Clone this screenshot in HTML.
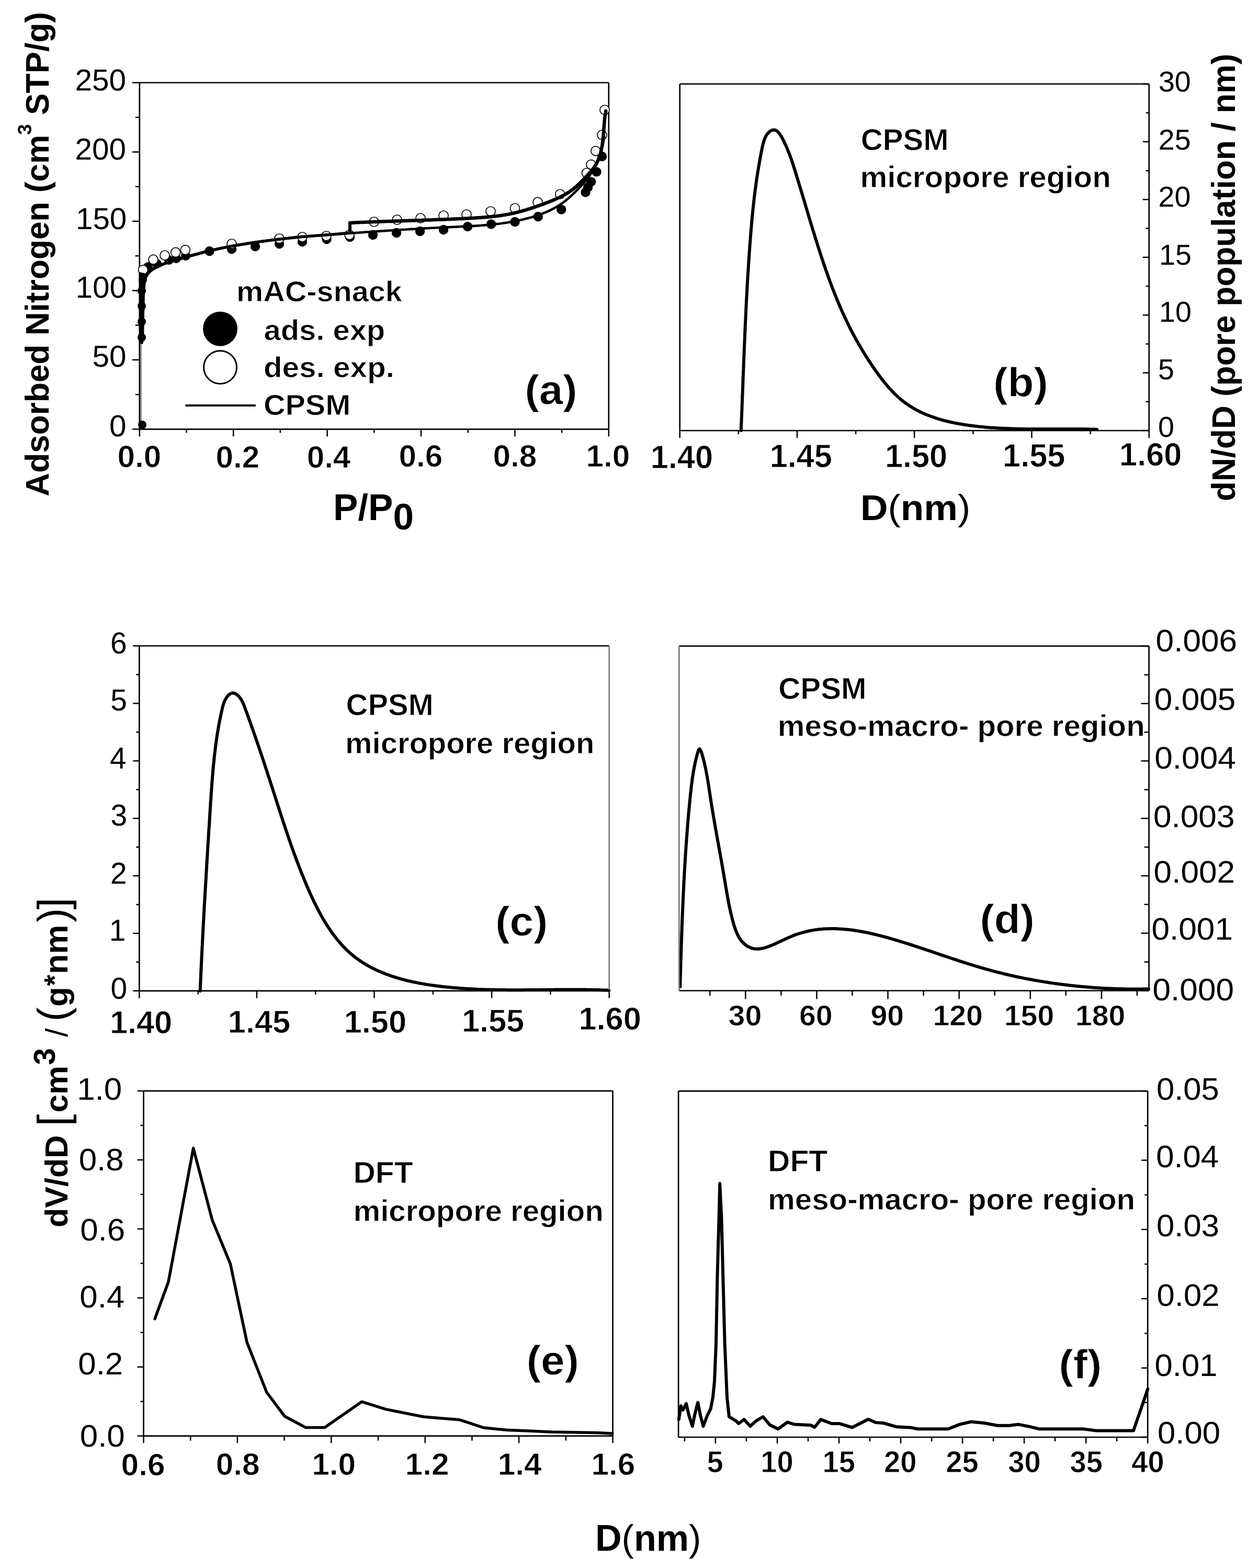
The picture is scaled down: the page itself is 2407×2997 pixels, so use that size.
<!DOCTYPE html>
<html><head><meta charset="utf-8"><title>Figure</title>
<style>
html,body{margin:0;padding:0;background:#fff;}
svg{display:block;}
text{font-family:"Liberation Sans", Arial, Helvetica, sans-serif;fill:#000;}
text[font-weight="bold"]{stroke:#fff;stroke-width:0.8px;}
.t, .t text{stroke:none !important;}
</style></head>
<body>
<svg width="2407" height="2997" viewBox="0 0 2407 2997">
<rect x="0" y="0" width="2407" height="2997" fill="#fff"/>
<line x1="266.8" y1="158" x2="1163.8" y2="158" stroke="#000" stroke-width="2.7"/>
<line x1="1163.8" y1="158" x2="1163.8" y2="820.3" stroke="#000" stroke-width="2.7"/>
<line x1="266.8" y1="820.3" x2="1163.8" y2="820.3" stroke="#000" stroke-width="2.7"/>
<line x1="266.8" y1="158" x2="266.8" y2="820.3" stroke="#000" stroke-width="2.7"/>
<line x1="252.8" y1="820.3" x2="266.8" y2="820.3" stroke="#000" stroke-width="2.5"/>
<line x1="258.8" y1="754.1" x2="266.8" y2="754.1" stroke="#000" stroke-width="2.5"/>
<line x1="252.8" y1="687.8" x2="266.8" y2="687.8" stroke="#000" stroke-width="2.5"/>
<line x1="258.8" y1="621.6" x2="266.8" y2="621.6" stroke="#000" stroke-width="2.5"/>
<line x1="252.8" y1="555.4" x2="266.8" y2="555.4" stroke="#000" stroke-width="2.5"/>
<line x1="258.8" y1="489.1" x2="266.8" y2="489.1" stroke="#000" stroke-width="2.5"/>
<line x1="252.8" y1="422.9" x2="266.8" y2="422.9" stroke="#000" stroke-width="2.5"/>
<line x1="258.8" y1="356.7" x2="266.8" y2="356.7" stroke="#000" stroke-width="2.5"/>
<line x1="252.8" y1="290.5" x2="266.8" y2="290.5" stroke="#000" stroke-width="2.5"/>
<line x1="258.8" y1="224.2" x2="266.8" y2="224.2" stroke="#000" stroke-width="2.5"/>
<line x1="252.8" y1="158" x2="266.8" y2="158" stroke="#000" stroke-width="2.5"/>
<line x1="266.8" y1="820.3" x2="266.8" y2="834.3" stroke="#000" stroke-width="2.5"/>
<line x1="446.2" y1="820.3" x2="446.2" y2="834.3" stroke="#000" stroke-width="2.5"/>
<line x1="625.6" y1="820.3" x2="625.6" y2="834.3" stroke="#000" stroke-width="2.5"/>
<line x1="805" y1="820.3" x2="805" y2="834.3" stroke="#000" stroke-width="2.5"/>
<line x1="984.4" y1="820.3" x2="984.4" y2="834.3" stroke="#000" stroke-width="2.5"/>
<line x1="1163.8" y1="820.3" x2="1163.8" y2="834.3" stroke="#000" stroke-width="2.5"/>
<line x1="356.5" y1="820.3" x2="356.5" y2="827.3" stroke="#000" stroke-width="2.5"/>
<line x1="535.9" y1="820.3" x2="535.9" y2="827.3" stroke="#000" stroke-width="2.5"/>
<line x1="715.3" y1="820.3" x2="715.3" y2="827.3" stroke="#000" stroke-width="2.5"/>
<line x1="894.7" y1="820.3" x2="894.7" y2="827.3" stroke="#000" stroke-width="2.5"/>
<line x1="1074.1" y1="820.3" x2="1074.1" y2="827.3" stroke="#000" stroke-width="2.5"/>
<line x1="269.6" y1="652" x2="269.6" y2="815" stroke="#777" stroke-width="2.2"/>
<circle cx="272" cy="812" r="8" fill="#000"/>
<circle cx="271" cy="645" r="8" fill="#000"/>
<circle cx="271" cy="615" r="8" fill="#000"/>
<circle cx="271" cy="585" r="8" fill="#000"/>
<circle cx="271" cy="556" r="8" fill="#000"/>
<circle cx="273" cy="535" r="8" fill="#000"/>
<circle cx="283" cy="510" r="9" fill="#000"/>
<circle cx="300" cy="504" r="9" fill="#000"/>
<circle cx="323" cy="497" r="9" fill="#000"/>
<circle cx="337" cy="494" r="9" fill="#000"/>
<circle cx="355" cy="489" r="9" fill="#000"/>
<circle cx="400.5" cy="480" r="9.2" fill="#000"/>
<circle cx="443" cy="476" r="9.2" fill="#000"/>
<circle cx="488" cy="471" r="9.2" fill="#000"/>
<circle cx="534" cy="466" r="9.2" fill="#000"/>
<circle cx="578" cy="462" r="9.2" fill="#000"/>
<circle cx="624.5" cy="457" r="9.2" fill="#000"/>
<circle cx="669" cy="453" r="9.2" fill="#000"/>
<circle cx="713" cy="449" r="9.2" fill="#000"/>
<circle cx="758" cy="445" r="9.2" fill="#000"/>
<circle cx="803" cy="442" r="9.2" fill="#000"/>
<circle cx="848" cy="439" r="9.2" fill="#000"/>
<circle cx="894" cy="433" r="9.2" fill="#000"/>
<circle cx="939" cy="428.5" r="9.2" fill="#000"/>
<circle cx="984.5" cy="424" r="9.2" fill="#000"/>
<circle cx="1028.7" cy="414" r="9.2" fill="#000"/>
<circle cx="1073.2" cy="400.5" r="9.2" fill="#000"/>
<circle cx="1119.5" cy="367.5" r="9.2" fill="#000"/>
<circle cx="1124" cy="358" r="9.2" fill="#000"/>
<circle cx="1130" cy="347.5" r="9.2" fill="#000"/>
<circle cx="1140.5" cy="328.4" r="9.2" fill="#000"/>
<circle cx="1151" cy="299" r="9.2" fill="#000"/>
<circle cx="1156" cy="210" r="9" fill="#fff" stroke="#000" stroke-width="1.7"/>
<circle cx="1151" cy="258" r="9" fill="#fff" stroke="#000" stroke-width="1.7"/>
<circle cx="1138.8" cy="288.6" r="9" fill="#fff" stroke="#000" stroke-width="1.7"/>
<circle cx="1130" cy="314.6" r="9" fill="#fff" stroke="#000" stroke-width="1.7"/>
<circle cx="1121.5" cy="330.5" r="9" fill="#fff" stroke="#000" stroke-width="1.7"/>
<circle cx="1070.7" cy="371" r="9" fill="#fff" stroke="#000" stroke-width="1.7"/>
<circle cx="1028" cy="386.4" r="9" fill="#fff" stroke="#000" stroke-width="1.7"/>
<circle cx="984.4" cy="398" r="9" fill="#fff" stroke="#000" stroke-width="1.7"/>
<circle cx="938" cy="404" r="9" fill="#fff" stroke="#000" stroke-width="1.7"/>
<circle cx="892" cy="410" r="9" fill="#fff" stroke="#000" stroke-width="1.7"/>
<circle cx="848" cy="412" r="9" fill="#fff" stroke="#000" stroke-width="1.7"/>
<circle cx="804" cy="417" r="9" fill="#fff" stroke="#000" stroke-width="1.7"/>
<circle cx="759" cy="420" r="9" fill="#fff" stroke="#000" stroke-width="1.7"/>
<circle cx="715" cy="424" r="9" fill="#fff" stroke="#000" stroke-width="1.7"/>
<circle cx="668" cy="449" r="9" fill="#fff" stroke="#000" stroke-width="1.7"/>
<circle cx="624" cy="451" r="9" fill="#fff" stroke="#000" stroke-width="1.7"/>
<circle cx="578" cy="453" r="9" fill="#fff" stroke="#000" stroke-width="1.7"/>
<circle cx="534" cy="456" r="9" fill="#fff" stroke="#000" stroke-width="1.7"/>
<circle cx="443" cy="466" r="9" fill="#fff" stroke="#000" stroke-width="1.7"/>
<circle cx="354.3" cy="477.7" r="9" fill="#fff" stroke="#000" stroke-width="1.7"/>
<circle cx="335.7" cy="482.4" r="9" fill="#fff" stroke="#000" stroke-width="1.7"/>
<circle cx="315" cy="488" r="9" fill="#fff" stroke="#000" stroke-width="1.7"/>
<circle cx="293" cy="496.2" r="9" fill="#fff" stroke="#000" stroke-width="1.7"/>
<circle cx="273.5" cy="515.8" r="9" fill="#fff" stroke="#000" stroke-width="1.7"/>
<path d="M270.9,654.9 L271.3,651.2 L271.6,647.4 L271.8,643.8 L272,640.1 L272.1,636.5 L272.2,632.9 L272.3,629.3 L272.3,625.7 L272.3,622.1 L272.2,618.5 L272.2,614.9 L272.1,611.3 L272,607.7 L271.9,604.1 L271.8,600.5 L271.7,596.8 L271.6,593.1 L271.5,589.4 L271.4,585.7 L271.3,581.9 L271.3,578.1 L271.3,574.3 L271.3,570.4 L271.4,566.5 L271.5,562.5 L271.7,558.5 L272,554.6 L272.4,550.7 L272.9,546.9 L273.6,543.1 L274.5,539.5 L275.6,536.1 L276.9,532.8 L278.4,529.7 L280.2,526.8 L282.2,524.2 L284.5,521.7 L286.9,519.4 L289.5,517.2 L292.3,515.2 L295.3,513.4 L298.4,511.6 L301.5,510 L304.8,508.5 L308.2,507 L311.6,505.6 L315.1,504.3 L318.6,503 L322.2,501.8 L325.7,500.6 L329.2,499.3 L332.8,498.1 L336.3,497 L339.9,495.8 L343.4,494.7 L346.9,493.6 L350.5,492.5 L354.1,491.4 L357.6,490.4 L361.2,489.3 L364.7,488.3 L368.3,487.3 L371.9,486.3 L375.4,485.3 L379,484.4 L382.6,483.5 L386.2,482.5 L389.8,481.6 L393.3,480.8 L396.9,479.9 L400.5,479 L404.1,478.2 L407.7,477.4 L411.3,476.6 L414.9,475.8 L418.5,475 L422.1,474.3 L425.7,473.5 L429.3,472.8 L432.9,472.1 L436.6,471.4 L440.2,470.7 L443.8,470 L447.4,469.4 L451,468.7 L454.6,468.1 L458.3,467.5 L461.9,466.9 L465.5,466.3 L469.1,465.7 L472.8,465.1 L476.4,464.5 L480,464 L483.7,463.5 L487.3,462.9 L491,462.4 L494.6,461.9 L498.2,461.4 L501.9,460.9 L505.5,460.4 L509.2,460 L512.8,459.5 L516.5,459.1 L520.1,458.6 L523.8,458.2 L527.4,457.8 L531.1,457.4 L534.7,457 L538.4,456.6 L542,456.2 L545.7,455.8 L549.3,455.4 L553,455 L556.7,454.7 L560.3,454.3 L564,454 L567.6,453.6 L571.3,453.3 L575,453 L578.6,452.6 L582.3,452.3 L586,452 L589.6,451.7 L593.3,451.4 L597,451.1 L600.6,450.8 L604.3,450.5 L608,450.2 L611.6,449.9 L615.3,449.6 L619,449.4 L622.6,449.1 L626.3,448.8 L630,448.6 L633.6,448.3 L637.3,448 L641,447.8 L644.6,447.5 L648.3,447.2 L652,447 L655.7,446.7 L659.3,446.5 L663,446.2 L666.7,445.9 L670.3,445.7 L674,445.4 L677.7,445.2 L681.3,444.9 L685,444.7 L688.7,444.4 L692.3,444.2 L696,443.9 L699.7,443.6 L703.3,443.4 L707,443.1 L710.7,442.9 L714.3,442.6 L718,442.4 L721.7,442.1 L725.3,441.9 L729,441.6 L732.6,441.4 L736.3,441.1 L740,440.9 L743.7,440.7 L747.3,440.4 L751,440.2 L754.7,439.9 L758.3,439.7 L762,439.5 L765.7,439.2 L769.3,439 L773,438.8 L776.7,438.6 L780.3,438.3 L784,438.1 L787.7,437.9 L791.4,437.7 L795,437.5 L798.7,437.3 L802.4,437 L806.1,436.8 L809.7,436.6 L813.4,436.4 L817.1,436.2 L820.8,436 L824.5,435.8 L828.1,435.7 L831.8,435.5 L835.5,435.3 L839.2,435.1 L842.9,434.9 L846.6,434.8 L850.2,434.6 L853.9,434.4 L857.6,434.3 L861.3,434.1 L865,433.9 L868.7,433.8 L872.4,433.6 L876.1,433.4 L879.8,433.3 L883.5,433.1 L887.2,432.9 L890.8,432.7 L894.5,432.5 L898.2,432.3 L901.9,432.1 L905.6,431.9 L909.3,431.7 L913,431.4 L916.6,431.2 L920.3,430.9 L924,430.6 L927.6,430.3 L931.3,430 L935,429.7 L938.6,429.3 L942.3,428.9 L945.9,428.5 L949.6,428.1 L953.2,427.7 L956.9,427.2 L960.5,426.7 L964.1,426.2 L967.8,425.7 L971.4,425.1 L975,424.5 L978.6,423.9 L982.2,423.2 L985.8,422.5 L989.4,421.8 L993,421 L996.5,420.2 L1000.1,419.4 L1003.7,418.5 L1007.2,417.6 L1010.8,416.7 L1014.3,415.7 L1017.8,414.7 L1021.4,413.6 L1024.9,412.5 L1028.4,411.4 L1031.8,410.2 L1035.3,408.9 L1038.7,407.6 L1042.1,406.2 L1045.5,404.8 L1048.8,403.3 L1052.2,401.7 L1055.4,400.1 L1058.7,398.4 L1061.9,396.6 L1065.1,394.8 L1068.2,392.9 L1071.3,390.9 L1074.3,388.8 L1077.3,386.7 L1080.2,384.4 L1083.1,382.1 L1085.9,379.7 L1088.7,377.3 L1091.5,374.8 L1094.2,372.2 L1096.9,369.7 L1099.5,367.1 L1102.1,364.4 L1104.8,361.8 L1107.4,359.1 L1109.9,356.4 L1112.4,353.7 L1114.9,351 L1117.3,348.2 L1119.7,345.4 L1122,342.6 L1124.2,339.7 L1126.4,336.7 L1128.4,333.7 L1130.4,330.7 L1132.4,327.6 L1134.2,324.5 L1136,321.3 L1137.7,318.1 L1139.4,314.8 L1140.9,311.5 L1142.4,308.2 L1143.9,304.9 L1145.2,301.4 L1146.5,298 L1147.7,294.5 L1148.8,291 L1149.8,287.5 L1150.8,283.9 L1151.6,280.3 L1152.5,276.7 L1153.2,273 L1153.8,269.4 L1154.4,265.6 L1154.9,261.9" fill="none" stroke="#000" stroke-width="4.6" stroke-linejoin="round" stroke-linecap="round"/>
<path d="M669,426 L671,425.9 L673.1,425.8 L675.1,425.7 L677.1,425.6 L679.1,425.5 L681.2,425.4 L683.2,425.3 L685.2,425.2 L687.2,425.1 L689.3,425 L691.3,425 L693.3,424.9 L695.3,424.8 L697.4,424.7 L699.4,424.6 L701.4,424.6 L703.5,424.5 L705.5,424.4 L707.5,424.3 L709.5,424.2 L711.6,424.2 L713.6,424.1 L715.6,424 L717.6,423.9 L719.7,423.9 L721.7,423.8 L723.7,423.7 L725.8,423.6 L727.8,423.6 L729.8,423.5 L731.8,423.4 L733.9,423.3 L735.9,423.3 L737.9,423.2 L740,423.1 L742,423.1 L744,423 L746,422.9 L748.1,422.9 L750.1,422.8 L752.1,422.7 L754.2,422.7 L756.2,422.6 L758.2,422.5 L760.3,422.5 L762.3,422.4 L764.3,422.3 L766.3,422.3 L768.4,422.2 L770.4,422.1 L772.4,422.1 L774.5,422 L776.5,421.9 L778.5,421.9 L780.5,421.8 L782.6,421.7 L784.6,421.7 L786.6,421.6 L788.7,421.5 L790.7,421.5 L792.7,421.4 L794.8,421.3 L796.8,421.3 L798.8,421.2 L800.8,421.1 L802.9,421.1 L804.9,421 L806.9,420.9 L809,420.8 L811,420.8 L813,420.7 L815.1,420.6 L817.1,420.6 L819.1,420.5 L821.1,420.4 L823.2,420.4 L825.2,420.3 L827.2,420.2 L829.3,420.1 L831.3,420.1 L833.3,420 L835.3,419.9 L837.4,419.8 L839.4,419.8 L841.4,419.7 L843.5,419.6 L845.5,419.5 L847.5,419.4 L849.5,419.4 L851.6,419.3 L853.6,419.2 L855.6,419.1 L857.7,419 L859.7,418.9 L861.7,418.9 L863.7,418.8 L865.8,418.7 L867.8,418.6 L869.8,418.5 L871.9,418.4 L873.9,418.3 L875.9,418.2 L877.9,418.1 L880,418 L882,418 L884,417.9 L886,417.8 L888.1,417.7 L890.1,417.6 L892.1,417.5 L894.2,417.4 L896.2,417.2 L898.2,417.1 L900.2,417 L902.3,416.9 L904.3,416.8 L906.3,416.7 L908.3,416.6 L910.4,416.5 L912.4,416.3 L914.4,416.2 L916.4,416.1 L918.5,415.9 L920.5,415.8 L922.5,415.6 L924.5,415.5 L926.5,415.3 L928.6,415.2 L930.6,415 L932.6,414.8 L934.6,414.6 L936.6,414.4 L938.6,414.2 L940.6,414 L942.7,413.8 L944.7,413.6 L946.7,413.4 L948.7,413.1 L950.7,412.9 L952.7,412.6 L954.7,412.3 L956.7,412 L958.7,411.7 L960.7,411.4 L962.7,411.1 L964.7,410.8 L966.7,410.5 L968.7,410.1 L970.7,409.7 L972.7,409.4 L974.7,409 L976.6,408.6 L978.6,408.1 L980.6,407.7 L982.6,407.3 L984.6,406.8 L986.6,406.3 L988.5,405.8 L990.5,405.3 L992.5,404.8 L994.4,404.3 L996.4,403.8 L998.4,403.3 L1000.3,402.7 L1002.3,402.1 L1004.2,401.6 L1006.2,401 L1008.1,400.4 L1010.1,399.8 L1012,399.2 L1014,398.6 L1015.9,397.9 L1017.9,397.3 L1019.8,396.7 L1021.7,396 L1023.7,395.4 L1025.6,394.7 L1027.5,394 L1029.4,393.4 L1031.3,392.7 L1033.3,392 L1035.2,391.3 L1037.1,390.6 L1039,389.9 L1040.9,389.2 L1042.8,388.4 L1044.7,387.7 L1046.6,387 L1048.4,386.3 L1050.3,385.5 L1052.2,384.8 L1054.1,384 L1055.9,383.3 L1057.8,382.5 L1059.7,381.7 L1061.5,380.9 L1063.3,380.1 L1065.2,379.3 L1067,378.4 L1068.8,377.6 L1070.6,376.7 L1072.4,375.8 L1074.2,374.9 L1076,374 L1077.7,373.1 L1079.5,372.1 L1081.2,371.1 L1082.9,370.1 L1084.6,369.1 L1086.3,368 L1088,366.9 L1089.7,365.8 L1091.3,364.7 L1093,363.5 L1094.6,362.3 L1096.2,361.1 L1097.8,359.8 L1099.3,358.5 L1100.9,357.2 L1102.4,355.9 L1103.9,354.5 L1105.4,353.1 L1106.9,351.6 L1108.4,350.2 L1109.9,348.7 L1111.3,347.2 L1112.8,345.7 L1114.2,344.2 L1115.7,342.8 L1117.1,341.3 L1118.6,339.8 L1120,338.3 L1121.4,336.8 L1122.9,335.3 L1124.3,333.8 L1125.6,332.3 L1127,330.8 L1128.4,329.3 L1129.7,327.7 L1131,326.2 L1132.2,324.6 L1133.5,323.1 L1134.7,321.5 L1135.8,319.9 L1137,318.2 L1138,316.6 L1139.1,314.9 L1140.1,313.2 L1141,311.5 L1141.9,309.7 L1142.7,308 L1143.5,306.2 L1144.3,304.4 L1145,302.5 L1145.7,300.7 L1146.4,298.8 L1147,296.9 L1147.5,295 L1148.1,293 L1148.6,291.1 L1149.1,289.1 L1149.5,287.2 L1149.9,285.2 L1150.3,283.2 L1150.7,281.2 L1151,279.2 L1151.4,277.1 L1151.7,275.1 L1151.9,273 L1152.2,271 L1152.5,268.9 L1152.7,266.9 L1152.9,264.8 L1153.1,262.7 L1153.3,260.6 L1153.5,258.6 L1153.7,256.5 L1153.8,254.4 L1154,252.3 L1154.1,250.2 L1154.3,248.2 L1154.5,246.1 L1154.6,244 L1154.8,242 L1154.9,239.9 L1155.1,237.9 L1155.3,235.8 L1155.4,233.8 L1155.6,231.8 L1155.8,229.7 L1156,227.7 L1156.2,225.7 L1156.5,223.8 L1156.7,221.8 L1157,219.8 L1157.3,217.9 L1157.6,216 L1157.9,214.1 L1158.2,212.2" fill="none" stroke="#000" stroke-width="6.5" stroke-linejoin="round" stroke-linecap="round"/>
<path d="M669,445 L669,426" fill="none" stroke="#000" stroke-width="6" stroke-linejoin="round" stroke-linecap="round"/>
<path d="M271,655 C271.1,647.5 271.2,624.2 271.5,610 C271.8,595.8 272.1,580.8 272.5,570 C272.9,559.2 273.2,551.5 274,545 C274.8,538.5 275.5,534.8 277,531 C278.5,527.2 280.3,524.8 283,522 C285.7,519.2 289.3,516.3 293,514 C296.7,511.7 300.3,510.2 305,508 C309.7,505.8 314,503.3 321,501 C328,498.7 334.8,497.3 347,494 C359.2,490.7 378.5,484.8 394,481 C409.5,477.2 424.7,473.9 440,471 C455.3,468.1 470.7,465.8 486,463.5 C501.3,461.2 516.7,459.3 532,457.5 C547.3,455.7 562.7,453.9 578,452.5 C593.3,451.1 608.8,450.2 624,449 C639.2,447.8 661.5,445.7 669,445" fill="none" stroke="#000" stroke-width="5.5" stroke-linejoin="round" stroke-linecap="round"/>
<path d="M266,653 L275,653 L276,600 L277,560 L279,535 L284,526 L276,522 L266,520 Z" fill="#000"/>
<circle cx="421" cy="628.4" r="33" fill="#000"/>
<circle cx="421" cy="702" r="31.5" fill="none" stroke="#000" stroke-width="3"/>
<line x1="354.5" y1="775" x2="488.8" y2="775" stroke="#000" stroke-width="4"/>
<text class="t" x="637" y="993.5" font-size="71" font-weight="bold">P/P<tspan dy="18">0</tspan></text>
<text class="t" transform="translate(92.5,948.7) rotate(-90)" font-size="62.2" font-weight="bold">Adsorbed Nitrogen (cm<tspan dy="-33" font-size="37">3</tspan><tspan dy="33"> STP/g)</tspan></text>
<path d="M1416.7,822.9 L1416.9,819.8 L1417,816.7 L1417.1,813.7 L1417.2,810.6 L1417.4,807.5 L1417.5,804.4 L1417.6,801.4 L1417.7,798.3 L1417.9,795.2 L1418,792.1 L1418.1,789 L1418.2,786 L1418.4,782.9 L1418.5,779.8 L1418.6,776.7 L1418.7,773.6 L1418.8,770.5 L1419,767.4 L1419.1,764.3 L1419.2,761.2 L1419.3,758.1 L1419.4,755 L1419.6,751.9 L1419.7,748.8 L1419.8,745.7 L1419.9,742.6 L1420,739.5 L1420.2,736.4 L1420.3,733.3 L1420.4,730.1 L1420.5,727 L1420.6,723.9 L1420.7,720.8 L1420.9,717.7 L1421,714.6 L1421.1,711.5 L1421.2,708.3 L1421.4,705.2 L1421.5,702.1 L1421.6,699 L1421.7,695.9 L1421.8,692.7 L1422,689.6 L1422.1,686.5 L1422.2,683.4 L1422.3,680.2 L1422.5,677.1 L1422.6,674 L1422.7,670.9 L1422.8,667.7 L1423,664.6 L1423.1,661.5 L1423.2,658.4 L1423.4,655.2 L1423.5,652.1 L1423.6,649 L1423.8,645.8 L1423.9,642.7 L1424,639.6 L1424.2,636.5 L1424.3,633.3 L1424.4,630.2 L1424.6,627.1 L1424.7,624 L1424.9,620.8 L1425,617.7 L1425.1,614.6 L1425.3,611.4 L1425.4,608.3 L1425.6,605.2 L1425.7,602.1 L1425.9,598.9 L1426,595.8 L1426.2,592.7 L1426.3,589.6 L1426.5,586.4 L1426.6,583.3 L1426.8,580.2 L1426.9,577.1 L1427.1,574 L1427.3,570.8 L1427.4,567.7 L1427.6,564.6 L1427.8,561.5 L1427.9,558.4 L1428.1,555.2 L1428.3,552.1 L1428.4,549 L1428.6,545.9 L1428.8,542.8 L1429,539.7 L1429.2,536.6 L1429.3,533.5 L1429.5,530.4 L1429.7,527.2 L1429.9,524.1 L1430.1,521 L1430.3,517.9 L1430.5,514.8 L1430.7,511.7 L1430.9,508.6 L1431.1,505.5 L1431.3,502.5 L1431.5,499.4 L1431.7,496.3 L1431.9,493.2 L1432.1,490.1 L1432.3,487 L1432.5,483.9 L1432.7,480.8 L1433,477.8 L1433.2,474.7 L1433.4,471.6 L1433.6,468.5 L1433.9,465.4 L1434.1,462.4 L1434.3,459.3 L1434.6,456.2 L1434.8,453.2 L1435,450.1 L1435.3,447 L1435.5,444 L1435.8,440.9 L1436,437.9 L1436.3,434.8 L1436.6,431.8 L1436.8,428.7 L1437.1,425.7 L1437.4,422.6 L1437.6,419.6 L1437.9,416.5 L1438.2,413.4 L1438.5,410.4 L1438.8,407.3 L1439.1,404.3 L1439.4,401.2 L1439.7,398.2 L1440.1,395.1 L1440.4,392 L1440.7,389 L1441.1,385.9 L1441.4,382.8 L1441.8,379.8 L1442.1,376.7 L1442.5,373.6 L1442.9,370.5 L1443.3,367.5 L1443.6,364.4 L1444,361.3 L1444.5,358.2 L1444.9,355.1 L1445.3,352 L1445.7,348.9 L1446.2,345.8 L1446.6,342.7 L1447.1,339.5 L1447.6,336.4 L1448,333.3 L1448.5,330.1 L1449,327 L1449.6,323.8 L1450.1,320.7 L1450.6,317.5 L1451.2,314.3 L1451.7,311.2 L1452.3,308 L1452.9,304.8 L1453.4,301.6 L1454,298.4 L1454.7,295.2 L1455.3,291.9 L1455.9,288.7 L1456.6,285.5 L1457.2,282.2 L1458,279 L1458.7,275.8 L1459.5,272.7 L1460.4,269.7 L1461.4,266.7 L1462.5,263.9 L1463.8,261.2 L1465.2,258.7 L1466.7,256.4 L1468.5,254.3 L1470.4,252.4 L1472.5,250.7 L1474.9,249.4 L1477.3,248.5 L1479.7,248.2 L1481.9,248.6 L1484.1,249.6 L1486.2,251 L1488.1,252.9 L1490,255.2 L1491.9,257.8 L1493.6,260.6 L1495.3,263.5 L1496.9,266.6 L1498.4,269.6 L1499.9,272.7 L1501.3,275.7 L1502.7,278.8 L1504,281.8 L1505.3,284.8 L1506.5,287.8 L1507.7,290.7 L1508.9,293.7 L1510,296.6 L1511.1,299.6 L1512.1,302.5 L1513.2,305.4 L1514.2,308.4 L1515.1,311.3 L1516.1,314.2 L1517,317.1 L1518,320.1 L1518.9,323 L1519.8,325.9 L1520.7,328.8 L1521.6,331.7 L1522.5,334.7 L1523.4,337.6 L1524.3,340.6 L1525.2,343.5 L1526.1,346.4 L1527,349.4 L1527.9,352.4 L1528.8,355.3 L1529.7,358.3 L1530.6,361.2 L1531.5,364.2 L1532.4,367.2 L1533.3,370.1 L1534.2,373.1 L1535.1,376.1 L1536,379.1 L1536.9,382 L1537.8,385 L1538.7,388 L1539.6,391 L1540.4,394 L1541.3,396.9 L1542.2,399.9 L1543.1,402.9 L1544,405.9 L1544.9,408.9 L1545.8,411.9 L1546.7,414.9 L1547.6,417.9 L1548.5,420.8 L1549.4,423.8 L1550.3,426.8 L1551.2,429.8 L1552.1,432.8 L1553,435.8 L1553.9,438.8 L1554.9,441.8 L1555.8,444.7 L1556.7,447.7 L1557.6,450.7 L1558.5,453.7 L1559.5,456.7 L1560.4,459.6 L1561.3,462.6 L1562.3,465.6 L1563.2,468.6 L1564.2,471.6 L1565.1,474.5 L1566.1,477.5 L1567,480.5 L1568,483.4 L1568.9,486.4 L1569.9,489.4 L1570.9,492.3 L1571.9,495.3 L1572.9,498.2 L1573.8,501.2 L1574.8,504.1 L1575.8,507.1 L1576.9,510 L1577.9,513 L1578.9,515.9 L1579.9,518.9 L1581,521.8 L1582,524.7 L1583,527.7 L1584.1,530.6 L1585.2,533.5 L1586.2,536.4 L1587.3,539.4 L1588.4,542.3 L1589.5,545.2 L1590.6,548.1 L1591.7,551 L1592.8,553.9 L1594,556.8 L1595.1,559.7 L1596.2,562.5 L1597.4,565.4 L1598.6,568.3 L1599.7,571.2 L1600.9,574 L1602.1,576.9 L1603.3,579.8 L1604.5,582.6 L1605.7,585.5 L1607,588.3 L1608.2,591.2 L1609.5,594 L1610.7,596.8 L1612,599.6 L1613.3,602.5 L1614.6,605.3 L1615.9,608.1 L1617.2,610.9 L1618.6,613.7 L1619.9,616.5 L1621.3,619.3 L1622.6,622 L1624,624.8 L1625.4,627.6 L1626.8,630.3 L1628.2,633.1 L1629.7,635.8 L1631.1,638.6 L1632.6,641.3 L1634.1,644 L1635.5,646.8 L1637,649.5 L1638.6,652.2 L1640.1,654.9 L1641.6,657.6 L1643.2,660.3 L1644.8,663 L1646.3,665.6 L1647.9,668.3 L1649.5,671 L1651.2,673.6 L1652.8,676.3 L1654.5,678.9 L1656.1,681.6 L1657.8,684.2 L1659.5,686.9 L1661.2,689.5 L1662.9,692.1 L1664.6,694.7 L1666.4,697.3 L1668.1,699.9 L1669.9,702.5 L1671.7,705.1 L1673.5,707.7 L1675.3,710.3 L1677.2,712.8 L1679,715.4 L1680.9,717.9 L1682.8,720.5 L1684.7,723 L1686.6,725.5 L1688.5,727.9 L1690.5,730.4 L1692.5,732.8 L1694.5,735.2 L1696.5,737.6 L1698.5,740 L1700.6,742.3 L1702.7,744.6 L1704.8,746.9 L1707,749.1 L1709.1,751.3 L1711.3,753.5 L1713.6,755.6 L1715.8,757.7 L1718.1,759.8 L1720.4,761.8 L1722.7,763.8 L1725.1,765.7 L1727.5,767.6 L1729.9,769.5 L1732.4,771.3 L1734.9,773 L1737.4,774.7 L1740,776.4 L1742.6,778 L1745.2,779.6 L1747.8,781.1 L1750.5,782.6 L1753.2,784.1 L1755.9,785.5 L1758.6,786.8 L1761.4,788.2 L1764.2,789.5 L1767,790.7 L1769.8,791.9 L1772.6,793.1 L1775.5,794.2 L1778.4,795.3 L1781.3,796.4 L1784.2,797.4 L1787.2,798.4 L1790.1,799.4 L1793.1,800.3 L1796.1,801.2 L1799.1,802.1 L1802.1,803 L1805.2,803.8 L1808.2,804.6 L1811.2,805.3 L1814.3,806 L1817.4,806.7 L1820.5,807.4 L1823.6,808.1 L1826.7,808.7 L1829.8,809.3 L1832.9,809.9 L1836,810.4 L1839.1,810.9 L1842.3,811.5 L1845.4,811.9 L1848.5,812.4 L1851.7,812.9 L1854.8,813.3 L1857.9,813.7 L1861.1,814.1 L1864.2,814.5 L1867.3,814.8 L1870.5,815.2 L1873.6,815.5 L1876.7,815.8 L1879.8,816.1 L1883,816.4 L1886.1,816.7 L1889.2,816.9 L1892.3,817.2 L1895.4,817.4 L1898.5,817.6 L1901.6,817.8 L1904.7,818 L1907.8,818.2 L1910.9,818.4 L1914,818.5 L1917.1,818.7 L1920.1,818.8 L1923.2,819 L1926.3,819.1 L1929.4,819.2 L1932.5,819.3 L1935.5,819.4 L1938.6,819.5 L1941.7,819.6 L1944.8,819.7 L1947.8,819.7 L1950.9,819.8 L1954,819.8 L1957.1,819.9 L1960.1,819.9 L1963.2,820 L1966.3,820 L1969.3,820 L1972.4,820.1 L1975.5,820.1 L1978.6,820.1 L1981.6,820.1 L1984.7,820.1 L1987.8,820.1 L1990.9,820.1 L1993.9,820.1 L1997,820.1 L2000.1,820.1 L2003.2,820.1 L2006.3,820.1 L2009.4,820.1 L2012.4,820 L2015.5,820 L2018.6,820 L2021.7,820 L2024.8,820 L2027.9,820 L2031,820 L2034.1,820 L2037.2,820 L2040.3,820 L2043.5,820 L2046.6,820 L2049.7,820 L2052.8,820 L2056,820 L2059.1,820 L2062.2,820.1 L2065.4,820.1 L2068.5,820.1 L2071.7,820.2 L2074.8,820.2 L2078,820.3 L2081.2,820.3 L2084.3,820.4 L2087.5,820.5 L2090.7,820.5 L2093.9,820.6 L2097.1,820.7" fill="none" stroke="#000" stroke-width="6" stroke-linejoin="round" stroke-linecap="round"/>
<line x1="1299.7" y1="160.5" x2="2196.8" y2="160.5" stroke="#000" stroke-width="2.7"/>
<line x1="2196.8" y1="160.5" x2="2196.8" y2="823" stroke="#000" stroke-width="2.7"/>
<line x1="1299.7" y1="823" x2="2196.8" y2="823" stroke="#000" stroke-width="2.7"/>
<line x1="1299.7" y1="160.5" x2="1299.7" y2="823" stroke="#000" stroke-width="2.7"/>
<line x1="2184.8" y1="823" x2="2196.8" y2="823" stroke="#000" stroke-width="2.5"/>
<line x1="2190.8" y1="767.8" x2="2196.8" y2="767.8" stroke="#000" stroke-width="2.5"/>
<line x1="2184.8" y1="712.6" x2="2196.8" y2="712.6" stroke="#000" stroke-width="2.5"/>
<line x1="2190.8" y1="657.4" x2="2196.8" y2="657.4" stroke="#000" stroke-width="2.5"/>
<line x1="2184.8" y1="602.2" x2="2196.8" y2="602.2" stroke="#000" stroke-width="2.5"/>
<line x1="2190.8" y1="547" x2="2196.8" y2="547" stroke="#000" stroke-width="2.5"/>
<line x1="2184.8" y1="491.8" x2="2196.8" y2="491.8" stroke="#000" stroke-width="2.5"/>
<line x1="2190.8" y1="436.5" x2="2196.8" y2="436.5" stroke="#000" stroke-width="2.5"/>
<line x1="2184.8" y1="381.3" x2="2196.8" y2="381.3" stroke="#000" stroke-width="2.5"/>
<line x1="2190.8" y1="326.1" x2="2196.8" y2="326.1" stroke="#000" stroke-width="2.5"/>
<line x1="2184.8" y1="270.9" x2="2196.8" y2="270.9" stroke="#000" stroke-width="2.5"/>
<line x1="2190.8" y1="215.7" x2="2196.8" y2="215.7" stroke="#000" stroke-width="2.5"/>
<line x1="2184.8" y1="160.5" x2="2196.8" y2="160.5" stroke="#000" stroke-width="2.5"/>
<line x1="1299.7" y1="823" x2="1299.7" y2="837" stroke="#000" stroke-width="2.5"/>
<line x1="1524" y1="823" x2="1524" y2="837" stroke="#000" stroke-width="2.5"/>
<line x1="1748.2" y1="823" x2="1748.2" y2="837" stroke="#000" stroke-width="2.5"/>
<line x1="1972.5" y1="823" x2="1972.5" y2="837" stroke="#000" stroke-width="2.5"/>
<line x1="2196.8" y1="823" x2="2196.8" y2="837" stroke="#000" stroke-width="2.5"/>
<line x1="1411.8" y1="823" x2="1411.8" y2="830" stroke="#000" stroke-width="2.5"/>
<line x1="1636.1" y1="823" x2="1636.1" y2="830" stroke="#000" stroke-width="2.5"/>
<line x1="1860.4" y1="823" x2="1860.4" y2="830" stroke="#000" stroke-width="2.5"/>
<line x1="2084.7" y1="823" x2="2084.7" y2="830" stroke="#000" stroke-width="2.5"/>
<text class="t" transform="translate(1645,994) scale(1.07,1)" font-size="68" font-weight="bold">D<tspan font-weight="normal">(</tspan>nm<tspan font-weight="normal">)</tspan></text>
<text class="t" transform="translate(2361.4,958) rotate(-90)" font-size="62.1" font-weight="bold">dN/dD (pore population / nm)</text>
<path d="M382.7,1894 L382.8,1890.7 L382.9,1887.4 L383.1,1884.1 L383.2,1880.8 L383.4,1877.5 L383.5,1874.2 L383.6,1871 L383.8,1867.7 L383.9,1864.4 L384.1,1861.1 L384.2,1857.8 L384.4,1854.5 L384.5,1851.2 L384.7,1847.9 L384.8,1844.6 L385,1841.3 L385.2,1838 L385.3,1834.8 L385.5,1831.5 L385.6,1828.2 L385.8,1824.9 L386,1821.6 L386.1,1818.3 L386.3,1815 L386.4,1811.7 L386.6,1808.5 L386.8,1805.2 L386.9,1801.9 L387.1,1798.6 L387.3,1795.3 L387.4,1792 L387.6,1788.8 L387.8,1785.5 L388,1782.2 L388.1,1778.9 L388.3,1775.6 L388.5,1772.3 L388.7,1769.1 L388.8,1765.8 L389,1762.5 L389.2,1759.2 L389.4,1755.9 L389.5,1752.6 L389.7,1749.4 L389.9,1746.1 L390.1,1742.8 L390.3,1739.5 L390.4,1736.2 L390.6,1733 L390.8,1729.7 L391,1726.4 L391.2,1723.1 L391.4,1719.8 L391.6,1716.6 L391.7,1713.3 L391.9,1710 L392.1,1706.7 L392.3,1703.4 L392.5,1700.2 L392.7,1696.9 L392.9,1693.6 L393.1,1690.3 L393.3,1687 L393.5,1683.7 L393.7,1680.5 L393.9,1677.2 L394,1673.9 L394.2,1670.6 L394.4,1667.3 L394.6,1664.1 L394.8,1660.8 L395,1657.5 L395.2,1654.2 L395.4,1650.9 L395.6,1647.6 L395.8,1644.4 L396,1641.1 L396.2,1637.8 L396.4,1634.5 L396.6,1631.2 L396.8,1627.9 L397,1624.7 L397.2,1621.4 L397.4,1618.1 L397.6,1614.8 L397.8,1611.5 L398,1608.2 L398.2,1604.9 L398.4,1601.7 L398.6,1598.4 L398.8,1595.1 L399,1591.8 L399.2,1588.5 L399.4,1585.2 L399.7,1581.9 L399.9,1578.6 L400.1,1575.3 L400.3,1572.1 L400.5,1568.8 L400.7,1565.5 L400.9,1562.2 L401.1,1558.9 L401.3,1555.6 L401.5,1552.3 L401.7,1549 L401.9,1545.7 L402.1,1542.4 L402.3,1539.1 L402.5,1535.8 L402.7,1532.5 L403,1529.2 L403.2,1525.9 L403.4,1522.6 L403.6,1519.3 L403.8,1516 L404.1,1512.8 L404.3,1509.5 L404.5,1506.2 L404.8,1502.9 L405,1499.6 L405.2,1496.3 L405.5,1493 L405.8,1489.7 L406,1486.5 L406.3,1483.2 L406.6,1479.9 L406.8,1476.6 L407.1,1473.3 L407.4,1470.1 L407.7,1466.8 L408,1463.5 L408.3,1460.3 L408.7,1457 L409,1453.7 L409.3,1450.5 L409.7,1447.2 L410,1444 L410.4,1440.7 L410.8,1437.5 L411.2,1434.3 L411.6,1431 L412,1427.8 L412.4,1424.6 L412.8,1421.3 L413.3,1418.1 L413.7,1414.9 L414.2,1411.7 L414.6,1408.5 L415.1,1405.2 L415.6,1402 L416.2,1398.8 L416.7,1395.5 L417.3,1392.3 L417.8,1389.1 L418.4,1385.8 L419,1382.6 L419.6,1379.3 L420.3,1376 L420.9,1372.7 L421.6,1369.4 L422.3,1366.1 L423,1362.8 L423.8,1359.5 L424.5,1356.1 L425.3,1352.8 L426.2,1349.4 L427.1,1346.1 L428.2,1342.9 L429.5,1339.8 L430.9,1336.8 L432.6,1333.9 L434.5,1331.3 L436.7,1328.8 L439.1,1326.8 L441.7,1325.3 L444.4,1324.6 L447.2,1324.8 L450,1325.8 L452.7,1327.5 L455.3,1329.8 L457.6,1332.3 L459.7,1334.9 L461.5,1337.7 L463.1,1340.5 L464.5,1343.5 L465.8,1346.5 L467,1349.5 L468.1,1352.6 L469.3,1355.7 L470.4,1358.8 L471.6,1361.9 L472.7,1365 L473.8,1368.1 L474.9,1371.2 L476.1,1374.3 L477.2,1377.4 L478.3,1380.5 L479.4,1383.6 L480.5,1386.7 L481.6,1389.8 L482.7,1393 L483.8,1396.1 L484.9,1399.2 L486,1402.3 L487.1,1405.5 L488.2,1408.6 L489.3,1411.7 L490.3,1414.9 L491.4,1418 L492.5,1421.2 L493.6,1424.3 L494.6,1427.4 L495.7,1430.6 L496.8,1433.7 L497.8,1436.9 L498.9,1440 L499.9,1443.2 L501,1446.3 L502,1449.5 L503.1,1452.6 L504.1,1455.8 L505.2,1458.9 L506.2,1462.1 L507.3,1465.2 L508.3,1468.3 L509.3,1471.5 L510.4,1474.6 L511.4,1477.8 L512.4,1480.9 L513.4,1484.1 L514.5,1487.2 L515.5,1490.3 L516.5,1493.5 L517.5,1496.6 L518.5,1499.7 L519.6,1502.9 L520.6,1506 L521.6,1509.1 L522.6,1512.3 L523.6,1515.4 L524.6,1518.5 L525.6,1521.6 L526.6,1524.7 L527.6,1527.8 L528.6,1530.9 L529.6,1534.1 L530.6,1537.2 L531.6,1540.3 L532.6,1543.4 L533.6,1546.5 L534.6,1549.6 L535.6,1552.6 L536.6,1555.7 L537.6,1558.8 L538.6,1561.9 L539.6,1565 L540.6,1568.1 L541.6,1571.2 L542.7,1574.3 L543.7,1577.3 L544.7,1580.4 L545.7,1583.5 L546.8,1586.6 L547.8,1589.7 L548.8,1592.7 L549.9,1595.8 L550.9,1598.9 L552,1602 L553,1605 L554.1,1608.1 L555.2,1611.2 L556.2,1614.3 L557.3,1617.3 L558.4,1620.4 L559.5,1623.5 L560.6,1626.5 L561.7,1629.6 L562.8,1632.7 L564,1635.8 L565.1,1638.8 L566.2,1641.9 L567.4,1645 L568.5,1648 L569.7,1651.1 L570.9,1654.2 L572.1,1657.3 L573.3,1660.3 L574.5,1663.4 L575.7,1666.5 L576.9,1669.6 L578.1,1672.6 L579.4,1675.7 L580.7,1678.8 L581.9,1681.9 L583.2,1685 L584.5,1688.1 L585.8,1691.1 L587.1,1694.2 L588.4,1697.3 L589.8,1700.4 L591.2,1703.5 L592.5,1706.6 L593.9,1709.6 L595.3,1712.7 L596.7,1715.8 L598.2,1718.8 L599.6,1721.9 L601.1,1724.9 L602.6,1727.9 L604.1,1731 L605.6,1734 L607.1,1737 L608.7,1740 L610.3,1742.9 L611.9,1745.9 L613.5,1748.8 L615.1,1751.7 L616.8,1754.7 L618.5,1757.5 L620.2,1760.4 L621.9,1763.3 L623.6,1766.1 L625.4,1768.9 L627.2,1771.7 L629,1774.4 L630.9,1777.2 L632.7,1779.9 L634.6,1782.6 L636.6,1785.2 L638.5,1787.8 L640.5,1790.4 L642.5,1793 L644.5,1795.6 L646.6,1798.1 L648.7,1800.5 L650.8,1803 L652.9,1805.4 L655.1,1807.8 L657.3,1810.1 L659.6,1812.4 L661.8,1814.6 L664.1,1816.9 L666.5,1819 L668.8,1821.2 L671.2,1823.3 L673.6,1825.3 L676.1,1827.4 L678.6,1829.3 L681.1,1831.3 L683.7,1833.1 L686.3,1835 L688.9,1836.8 L691.6,1838.6 L694.3,1840.3 L697,1842 L699.7,1843.6 L702.5,1845.2 L705.3,1846.8 L708.1,1848.3 L711,1849.8 L713.8,1851.3 L716.7,1852.7 L719.7,1854.1 L722.6,1855.4 L725.6,1856.7 L728.6,1858 L731.6,1859.3 L734.6,1860.5 L737.7,1861.7 L740.7,1862.8 L743.8,1863.9 L746.9,1865 L750.1,1866.1 L753.2,1867.1 L756.4,1868.1 L759.5,1869.1 L762.7,1870 L765.9,1870.9 L769.1,1871.8 L772.4,1872.7 L775.6,1873.5 L778.9,1874.3 L782.1,1875.1 L785.4,1875.8 L788.7,1876.6 L792,1877.3 L795.3,1877.9 L798.6,1878.6 L801.9,1879.2 L805.3,1879.9 L808.6,1880.4 L811.9,1881 L815.3,1881.6 L818.6,1882.1 L822,1882.6 L825.3,1883.1 L828.7,1883.6 L832.1,1884 L835.4,1884.5 L838.8,1884.9 L842.1,1885.3 L845.5,1885.7 L848.9,1886.1 L852.2,1886.4 L855.6,1886.8 L858.9,1887.1 L862.3,1887.4 L865.6,1887.7 L868.9,1888 L872.3,1888.3 L875.6,1888.6 L878.9,1888.8 L882.2,1889.1 L885.5,1889.3 L888.8,1889.5 L892.1,1889.7 L895.4,1889.9 L898.7,1890.1 L902,1890.3 L905.3,1890.5 L908.6,1890.6 L911.9,1890.8 L915.1,1890.9 L918.4,1891.1 L921.7,1891.2 L924.9,1891.3 L928.2,1891.4 L931.5,1891.5 L934.7,1891.6 L938,1891.7 L941.2,1891.8 L944.5,1891.8 L947.7,1891.9 L951,1891.9 L954.2,1892 L957.5,1892 L960.7,1892.1 L963.9,1892.1 L967.2,1892.1 L970.4,1892.2 L973.6,1892.2 L976.9,1892.2 L980.1,1892.2 L983.3,1892.2 L986.6,1892.2 L989.8,1892.2 L993,1892.2 L996.3,1892.2 L999.5,1892.2 L1002.7,1892.1 L1006,1892.1 L1009.2,1892.1 L1012.5,1892.1 L1015.7,1892.1 L1018.9,1892 L1022.2,1892 L1025.4,1892 L1028.6,1891.9 L1031.9,1891.9 L1035.1,1891.9 L1038.4,1891.8 L1041.6,1891.8 L1044.9,1891.8 L1048.1,1891.7 L1051.4,1891.7 L1054.6,1891.7 L1057.9,1891.7 L1061.1,1891.6 L1064.4,1891.6 L1067.7,1891.6 L1070.9,1891.6 L1074.2,1891.5 L1077.5,1891.5 L1080.8,1891.5 L1084.1,1891.5 L1087.4,1891.5 L1090.6,1891.5 L1093.9,1891.5 L1097.2,1891.5 L1100.5,1891.5 L1103.9,1891.5 L1107.2,1891.5 L1110.5,1891.5 L1113.8,1891.6 L1117.1,1891.6 L1120.5,1891.6 L1123.8,1891.7 L1127.2,1891.7 L1130.5,1891.8 L1133.9,1891.9 L1137.2,1891.9 L1140.6,1892 L1144,1892.1 L1147.3,1892.2 L1150.7,1892.3 L1154.1,1892.4 L1157.5,1892.5 L1160.9,1892.6 L1164.3,1892.8" fill="none" stroke="#000" stroke-width="6" stroke-linejoin="round" stroke-linecap="round"/>
<line x1="266.3" y1="1234.5" x2="1164.7" y2="1234.5" stroke="#000" stroke-width="2.7"/>
<line x1="1164.7" y1="1234.5" x2="1164.7" y2="1893.8" stroke="#777" stroke-width="2.7"/>
<line x1="266.3" y1="1893.8" x2="1164.7" y2="1893.8" stroke="#000" stroke-width="2.7"/>
<line x1="266.3" y1="1234.5" x2="266.3" y2="1893.8" stroke="#000" stroke-width="2.7"/>
<line x1="254.3" y1="1893.8" x2="266.3" y2="1893.8" stroke="#000" stroke-width="2.5"/>
<line x1="260.3" y1="1838.9" x2="266.3" y2="1838.9" stroke="#000" stroke-width="2.5"/>
<line x1="254.3" y1="1783.9" x2="266.3" y2="1783.9" stroke="#000" stroke-width="2.5"/>
<line x1="260.3" y1="1729" x2="266.3" y2="1729" stroke="#000" stroke-width="2.5"/>
<line x1="254.3" y1="1674" x2="266.3" y2="1674" stroke="#000" stroke-width="2.5"/>
<line x1="260.3" y1="1619.1" x2="266.3" y2="1619.1" stroke="#000" stroke-width="2.5"/>
<line x1="254.3" y1="1564.2" x2="266.3" y2="1564.2" stroke="#000" stroke-width="2.5"/>
<line x1="260.3" y1="1509.2" x2="266.3" y2="1509.2" stroke="#000" stroke-width="2.5"/>
<line x1="254.3" y1="1454.3" x2="266.3" y2="1454.3" stroke="#000" stroke-width="2.5"/>
<line x1="260.3" y1="1399.3" x2="266.3" y2="1399.3" stroke="#000" stroke-width="2.5"/>
<line x1="254.3" y1="1344.4" x2="266.3" y2="1344.4" stroke="#000" stroke-width="2.5"/>
<line x1="260.3" y1="1289.4" x2="266.3" y2="1289.4" stroke="#000" stroke-width="2.5"/>
<line x1="254.3" y1="1234.5" x2="266.3" y2="1234.5" stroke="#000" stroke-width="2.5"/>
<line x1="266.3" y1="1893.8" x2="266.3" y2="1907.8" stroke="#000" stroke-width="2.5"/>
<line x1="490.9" y1="1893.8" x2="490.9" y2="1907.8" stroke="#000" stroke-width="2.5"/>
<line x1="715.5" y1="1893.8" x2="715.5" y2="1907.8" stroke="#000" stroke-width="2.5"/>
<line x1="940.1" y1="1893.8" x2="940.1" y2="1907.8" stroke="#000" stroke-width="2.5"/>
<line x1="1164.7" y1="1893.8" x2="1164.7" y2="1907.8" stroke="#000" stroke-width="2.5"/>
<line x1="378.6" y1="1893.8" x2="378.6" y2="1900.8" stroke="#000" stroke-width="2.5"/>
<line x1="603.2" y1="1893.8" x2="603.2" y2="1900.8" stroke="#000" stroke-width="2.5"/>
<line x1="827.8" y1="1893.8" x2="827.8" y2="1900.8" stroke="#000" stroke-width="2.5"/>
<line x1="1052.4" y1="1893.8" x2="1052.4" y2="1900.8" stroke="#000" stroke-width="2.5"/>
<path d="M1300.5,1886 L1300.3,1883.7 L1300.3,1881.4 L1300.4,1879.1 L1300.5,1876.8 L1300.5,1874.5 L1300.6,1872.2 L1300.7,1869.9 L1300.7,1867.6 L1300.8,1865.3 L1300.9,1863 L1300.9,1860.7 L1301,1858.4 L1301.1,1856.1 L1301.1,1853.8 L1301.2,1851.5 L1301.3,1849.2 L1301.3,1846.9 L1301.4,1844.6 L1301.5,1842.3 L1301.5,1840 L1301.6,1837.7 L1301.7,1835.4 L1301.7,1833.1 L1301.8,1830.8 L1301.9,1828.5 L1301.9,1826.2 L1302,1823.9 L1302.1,1821.7 L1302.2,1819.4 L1302.2,1817.1 L1302.3,1814.8 L1302.4,1812.5 L1302.5,1810.2 L1302.5,1807.9 L1302.6,1805.6 L1302.7,1803.3 L1302.8,1801 L1302.8,1798.7 L1302.9,1796.4 L1303,1794.1 L1303.1,1791.8 L1303.1,1789.5 L1303.2,1787.2 L1303.3,1784.9 L1303.4,1782.6 L1303.5,1780.3 L1303.6,1778 L1303.6,1775.7 L1303.7,1773.4 L1303.8,1771.1 L1303.9,1768.8 L1304,1766.5 L1304.1,1764.2 L1304.1,1761.9 L1304.2,1759.6 L1304.3,1757.3 L1304.4,1755 L1304.5,1752.7 L1304.6,1750.4 L1304.7,1748.1 L1304.8,1745.8 L1304.9,1743.5 L1305,1741.2 L1305.1,1738.9 L1305.2,1736.6 L1305.3,1734.3 L1305.4,1732 L1305.5,1729.7 L1305.6,1727.4 L1305.7,1725.1 L1305.8,1722.8 L1305.9,1720.5 L1306,1718.2 L1306.1,1715.9 L1306.2,1713.6 L1306.3,1711.3 L1306.4,1709 L1306.5,1706.7 L1306.6,1704.4 L1306.7,1702.1 L1306.8,1699.8 L1306.9,1697.5 L1307.1,1695.2 L1307.2,1692.9 L1307.3,1690.6 L1307.4,1688.3 L1307.5,1686 L1307.6,1683.7 L1307.8,1681.4 L1307.9,1679.1 L1308,1676.8 L1308.1,1674.5 L1308.3,1672.2 L1308.4,1669.9 L1308.5,1667.6 L1308.6,1665.3 L1308.8,1663 L1308.9,1660.7 L1309,1658.4 L1309.2,1656.1 L1309.3,1653.8 L1309.4,1651.5 L1309.6,1649.2 L1309.7,1646.9 L1309.9,1644.6 L1310,1642.3 L1310.1,1640 L1310.3,1637.7 L1310.4,1635.4 L1310.6,1633.1 L1310.7,1630.8 L1310.9,1628.5 L1311,1626.2 L1311.2,1623.9 L1311.3,1621.6 L1311.5,1619.4 L1311.7,1617.1 L1311.8,1614.8 L1312,1612.5 L1312.1,1610.2 L1312.3,1607.9 L1312.5,1605.6 L1312.6,1603.3 L1312.8,1601 L1313,1598.7 L1313.2,1596.4 L1313.3,1594.1 L1313.5,1591.8 L1313.7,1589.5 L1313.9,1587.2 L1314,1584.9 L1314.2,1582.6 L1314.4,1580.3 L1314.6,1578 L1314.8,1575.8 L1315,1573.5 L1315.2,1571.2 L1315.3,1568.9 L1315.5,1566.6 L1315.7,1564.3 L1315.9,1562 L1316.1,1559.7 L1316.3,1557.4 L1316.5,1555.1 L1316.7,1552.8 L1316.9,1550.5 L1317.2,1548.3 L1317.4,1546 L1317.6,1543.7 L1317.8,1541.4 L1318,1539.1 L1318.2,1536.8 L1318.4,1534.5 L1318.7,1532.2 L1318.9,1529.9 L1319.1,1527.7 L1319.3,1525.4 L1319.6,1523.1 L1319.8,1520.8 L1320,1518.5 L1320.3,1516.2 L1320.5,1513.9 L1320.8,1511.6 L1321,1509.4 L1321.3,1507.1 L1321.5,1504.8 L1321.8,1502.5 L1322.1,1500.2 L1322.4,1498 L1322.7,1495.7 L1323,1493.4 L1323.3,1491.1 L1323.6,1488.9 L1323.9,1486.6 L1324.2,1484.3 L1324.6,1482.1 L1324.9,1479.8 L1325.3,1477.6 L1325.7,1475.3 L1326.1,1473 L1326.5,1470.8 L1326.9,1468.5 L1327.3,1466.3 L1327.7,1464.1 L1328.2,1461.8 L1328.7,1459.6 L1329.1,1457.4 L1329.6,1455.1 L1330.2,1452.9 L1330.7,1450.7 L1331.2,1448.5 L1331.8,1446.3 L1332.4,1444 L1333,1441.8 L1333.6,1439.6 L1334.2,1437.4 L1334.9,1435.3 L1335.5,1433.1 L1337.8,1431.5 L1340.7,1436.7 L1342.4,1442.3 L1344,1448 L1345.5,1453.7 L1346.9,1459.4 L1348.2,1465.2 L1349.4,1471 L1350.5,1476.8 L1351.6,1482.6 L1352.6,1488.4 L1353.6,1494.2 L1354.5,1500.1 L1355.4,1506 L1356.3,1511.8 L1357.2,1517.7 L1358.1,1523.6 L1359,1529.5 L1359.9,1535.4 L1360.8,1541.2 L1361.8,1547.1 L1362.8,1553 L1363.8,1558.9 L1364.8,1564.8 L1365.8,1570.7 L1366.8,1576.5 L1367.8,1582.4 L1368.9,1588.3 L1369.9,1594.2 L1371,1600 L1372,1605.9 L1373.1,1611.7 L1374.1,1617.6 L1375.2,1623.5 L1376.2,1629.3 L1377.3,1635.1 L1378.3,1641 L1379.4,1646.8 L1380.4,1652.6 L1381.4,1658.4 L1382.4,1664.3 L1383.4,1670.1 L1384.4,1675.9 L1385.4,1681.6 L1386.4,1687.4 L1387.3,1693.2 L1388.3,1699 L1389.3,1704.7 L1390.3,1710.5 L1391.3,1716.3 L1392.4,1722.1 L1393.5,1728 L1394.7,1733.9 L1396,1739.7 L1397.3,1745.7 L1398.8,1751.6 L1400.3,1757.7 L1401.9,1763.7 L1403.7,1769.8 L1405.7,1775.8 L1408,1781.7 L1410.5,1787.3 L1413.4,1792.5 L1416.7,1797.4 L1420.5,1801.7 L1424.7,1805.5 L1429.2,1808.7 L1434.1,1811.1 L1439.2,1812.9 L1444.5,1813.8 L1450,1813.8 L1455.5,1813.1 L1461.2,1811.8 L1466.9,1810 L1472.7,1807.9 L1478.3,1805.5 L1484,1803 L1489.6,1800.4 L1495.2,1797.8 L1500.8,1795.2 L1506.4,1792.6 L1512,1790.2 L1517.6,1787.9 L1523.2,1785.8 L1528.9,1784 L1534.6,1782.3 L1540.3,1780.8 L1546,1779.5 L1551.8,1778.4 L1557.5,1777.4 L1563.3,1776.6 L1569.1,1776 L1574.9,1775.5 L1580.7,1775.2 L1586.6,1775.1 L1592.4,1775 L1598.3,1775.1 L1604.1,1775.4 L1610,1775.7 L1615.9,1776.2 L1621.7,1776.8 L1627.6,1777.5 L1633.5,1778.3 L1639.4,1779.2 L1645.2,1780.2 L1651.1,1781.3 L1657,1782.4 L1662.8,1783.7 L1668.7,1785 L1674.5,1786.4 L1680.4,1787.8 L1686.2,1789.3 L1692,1790.9 L1697.8,1792.5 L1703.6,1794.1 L1709.3,1795.8 L1715.1,1797.5 L1720.8,1799.3 L1726.5,1801 L1732.3,1802.8 L1737.9,1804.6 L1743.6,1806.4 L1749.3,1808.3 L1755,1810.1 L1760.6,1812 L1766.2,1813.9 L1771.9,1815.8 L1777.5,1817.7 L1783.1,1819.6 L1788.7,1821.5 L1794.3,1823.4 L1799.9,1825.3 L1805.6,1827.2 L1811.2,1829.1 L1816.8,1831 L1822.4,1832.8 L1828,1834.7 L1833.6,1836.6 L1839.2,1838.4 L1844.8,1840.2 L1850.5,1842 L1856.1,1843.7 L1861.8,1845.5 L1867.4,1847.2 L1873.1,1848.9 L1878.8,1850.5 L1884.4,1852.2 L1890.1,1853.7 L1895.9,1855.3 L1901.6,1856.8 L1907.3,1858.3 L1913.1,1859.7 L1918.8,1861.1 L1924.6,1862.5 L1930.4,1863.9 L1936.2,1865.2 L1942,1866.5 L1947.8,1867.7 L1953.6,1868.9 L1959.4,1870.1 L1965.3,1871.2 L1971.1,1872.3 L1977,1873.4 L1982.8,1874.4 L1988.7,1875.4 L1994.6,1876.4 L2000.5,1877.3 L2006.4,1878.3 L2012.3,1879.1 L2018.2,1880 L2024.1,1880.8 L2030,1881.5 L2035.9,1882.3 L2041.8,1883 L2047.7,1883.7 L2053.6,1884.3 L2059.6,1884.9 L2065.5,1885.5 L2071.4,1886.1 L2077.4,1886.6 L2083.3,1887.1 L2089.2,1887.5 L2095.2,1887.9 L2101.1,1888.3 L2107,1888.7 L2113,1889 L2118.9,1889.3 L2124.9,1889.5 L2130.8,1889.8 L2136.7,1890 L2142.7,1890.1 L2148.6,1890.3 L2154.5,1890.4 L2160.4,1890.4 L2166.4,1890.5 L2172.3,1890.5 L2178.2,1890.4 L2184.1,1890.4 L2190,1890.3 L2196,1890.5" fill="none" stroke="#000" stroke-width="6" stroke-linejoin="round" stroke-linecap="round"/>
<line x1="1298.3" y1="1234.9" x2="2196.6" y2="1234.9" stroke="#000" stroke-width="2.7"/>
<line x1="2196.6" y1="1234.9" x2="2196.6" y2="1893.5" stroke="#000" stroke-width="2.7"/>
<line x1="1298.3" y1="1893.5" x2="2196.6" y2="1893.5" stroke="#000" stroke-width="2.7"/>
<line x1="1298.3" y1="1234.9" x2="1298.3" y2="1893.5" stroke="#777" stroke-width="2.7"/>
<line x1="2181.6" y1="1893.5" x2="2196.6" y2="1893.5" stroke="#000" stroke-width="2.5"/>
<line x1="2187.6" y1="1838.6" x2="2196.6" y2="1838.6" stroke="#000" stroke-width="2.5"/>
<line x1="2181.6" y1="1783.7" x2="2196.6" y2="1783.7" stroke="#000" stroke-width="2.5"/>
<line x1="2187.6" y1="1728.8" x2="2196.6" y2="1728.8" stroke="#000" stroke-width="2.5"/>
<line x1="2181.6" y1="1674" x2="2196.6" y2="1674" stroke="#000" stroke-width="2.5"/>
<line x1="2187.6" y1="1619.1" x2="2196.6" y2="1619.1" stroke="#000" stroke-width="2.5"/>
<line x1="2181.6" y1="1564.2" x2="2196.6" y2="1564.2" stroke="#000" stroke-width="2.5"/>
<line x1="2187.6" y1="1509.3" x2="2196.6" y2="1509.3" stroke="#000" stroke-width="2.5"/>
<line x1="2181.6" y1="1454.4" x2="2196.6" y2="1454.4" stroke="#000" stroke-width="2.5"/>
<line x1="2187.6" y1="1399.5" x2="2196.6" y2="1399.5" stroke="#000" stroke-width="2.5"/>
<line x1="2181.6" y1="1344.7" x2="2196.6" y2="1344.7" stroke="#000" stroke-width="2.5"/>
<line x1="2187.6" y1="1289.8" x2="2196.6" y2="1289.8" stroke="#000" stroke-width="2.5"/>
<line x1="2181.6" y1="1234.9" x2="2196.6" y2="1234.9" stroke="#000" stroke-width="2.5"/>
<line x1="1425.3" y1="1893.5" x2="1425.3" y2="1909.5" stroke="#000" stroke-width="2.5"/>
<line x1="1561.4" y1="1893.5" x2="1561.4" y2="1909.5" stroke="#000" stroke-width="2.5"/>
<line x1="1697.5" y1="1893.5" x2="1697.5" y2="1909.5" stroke="#000" stroke-width="2.5"/>
<line x1="1833.7" y1="1893.5" x2="1833.7" y2="1909.5" stroke="#000" stroke-width="2.5"/>
<line x1="1969.8" y1="1893.5" x2="1969.8" y2="1909.5" stroke="#000" stroke-width="2.5"/>
<line x1="2105.9" y1="1893.5" x2="2105.9" y2="1909.5" stroke="#000" stroke-width="2.5"/>
<line x1="1357.3" y1="1893.5" x2="1357.3" y2="1903" stroke="#000" stroke-width="2.5"/>
<line x1="1493.4" y1="1893.5" x2="1493.4" y2="1903" stroke="#000" stroke-width="2.5"/>
<line x1="1629.5" y1="1893.5" x2="1629.5" y2="1903" stroke="#000" stroke-width="2.5"/>
<line x1="1765.6" y1="1893.5" x2="1765.6" y2="1903" stroke="#000" stroke-width="2.5"/>
<line x1="1901.7" y1="1893.5" x2="1901.7" y2="1903" stroke="#000" stroke-width="2.5"/>
<line x1="2037.8" y1="1893.5" x2="2037.8" y2="1903" stroke="#000" stroke-width="2.5"/>
<line x1="2173.9" y1="1893.5" x2="2173.9" y2="1903" stroke="#000" stroke-width="2.5"/>
<path d="M296,2520.7 L322,2450 L369.6,2194.5 L405.7,2331.7 L440.3,2415.4 L472.1,2565.5 L509.6,2660.8 L544.2,2707 L584.7,2728.6 L620.8,2728.6 L691.5,2679.2 L737.7,2693.6 L809.9,2708 L879.2,2713.8 L925.4,2729.1 L968.7,2733.2 L1055.3,2736.9 L1141.9,2738.4 L1170.8,2740" fill="none" stroke="#000" stroke-width="5.5" stroke-linejoin="round" stroke-linecap="round" stroke-linecap="butt"/>
<line x1="274.5" y1="2085.1" x2="1171.5" y2="2085.1" stroke="#000" stroke-width="2.7"/>
<line x1="1171.5" y1="2085.1" x2="1171.5" y2="2744.6" stroke="#000" stroke-width="2.7"/>
<line x1="274.5" y1="2744.6" x2="1171.5" y2="2744.6" stroke="#000" stroke-width="2.7"/>
<line x1="274.5" y1="2085.1" x2="274.5" y2="2744.6" stroke="#000" stroke-width="2.7"/>
<line x1="262.5" y1="2744.6" x2="274.5" y2="2744.6" stroke="#000" stroke-width="2.5"/>
<line x1="268.5" y1="2678.7" x2="274.5" y2="2678.7" stroke="#000" stroke-width="2.5"/>
<line x1="262.5" y1="2612.7" x2="274.5" y2="2612.7" stroke="#000" stroke-width="2.5"/>
<line x1="268.5" y1="2546.8" x2="274.5" y2="2546.8" stroke="#000" stroke-width="2.5"/>
<line x1="262.5" y1="2480.8" x2="274.5" y2="2480.8" stroke="#000" stroke-width="2.5"/>
<line x1="268.5" y1="2414.8" x2="274.5" y2="2414.8" stroke="#000" stroke-width="2.5"/>
<line x1="262.5" y1="2348.9" x2="274.5" y2="2348.9" stroke="#000" stroke-width="2.5"/>
<line x1="268.5" y1="2282.9" x2="274.5" y2="2282.9" stroke="#000" stroke-width="2.5"/>
<line x1="262.5" y1="2217" x2="274.5" y2="2217" stroke="#000" stroke-width="2.5"/>
<line x1="268.5" y1="2151" x2="274.5" y2="2151" stroke="#000" stroke-width="2.5"/>
<line x1="262.5" y1="2085.1" x2="274.5" y2="2085.1" stroke="#000" stroke-width="2.5"/>
<line x1="274.5" y1="2744.6" x2="274.5" y2="2758.1" stroke="#000" stroke-width="2.5"/>
<line x1="453.9" y1="2744.6" x2="453.9" y2="2758.1" stroke="#000" stroke-width="2.5"/>
<line x1="633.3" y1="2744.6" x2="633.3" y2="2758.1" stroke="#000" stroke-width="2.5"/>
<line x1="812.7" y1="2744.6" x2="812.7" y2="2758.1" stroke="#000" stroke-width="2.5"/>
<line x1="992.1" y1="2744.6" x2="992.1" y2="2758.1" stroke="#000" stroke-width="2.5"/>
<line x1="1171.5" y1="2744.6" x2="1171.5" y2="2758.1" stroke="#000" stroke-width="2.5"/>
<line x1="364.2" y1="2744.6" x2="364.2" y2="2753.6" stroke="#000" stroke-width="2.5"/>
<line x1="543.6" y1="2744.6" x2="543.6" y2="2753.6" stroke="#000" stroke-width="2.5"/>
<line x1="723" y1="2744.6" x2="723" y2="2753.6" stroke="#000" stroke-width="2.5"/>
<line x1="902.4" y1="2744.6" x2="902.4" y2="2753.6" stroke="#000" stroke-width="2.5"/>
<line x1="1081.8" y1="2744.6" x2="1081.8" y2="2753.6" stroke="#000" stroke-width="2.5"/>
<path d="M1297.8,2713 L1301.7,2687 L1305.6,2695 L1312,2683 L1317,2705 L1323.8,2726 L1328,2705 L1334.2,2680.6 L1339,2705 L1344.5,2726 L1352.3,2705.3 L1358.8,2692.3 L1363,2670 L1366,2640 L1369,2567 L1371.5,2437 L1374.4,2333.9 L1376.2,2262 L1379.6,2333.9 L1382.2,2437.8 L1385.6,2567.7 L1390,2671.6 L1393.9,2707.9 L1406.9,2715.7 L1412.1,2720.9 L1422.5,2713.1 L1434.2,2726.1 L1445.8,2715.7 L1458.8,2708 L1471.8,2723.5 L1487.4,2731.3 L1505.6,2718.3 L1518.6,2722.5 L1549.7,2724 L1557.5,2728 L1569.2,2713.1 L1590,2721 L1605.5,2721.1 L1629.1,2728.4 L1660,2712.8 L1674.6,2718.9 L1689.1,2720 L1714.6,2727.3 L1740.1,2728.4 L1754.6,2731.3 L1812.8,2731.3 L1834.6,2722.6 L1856.5,2717.5 L1881.9,2720 L1907.4,2724.8 L1929.2,2724.8 L1947.4,2722.6 L1965.6,2726.2 L1987.4,2731.3 L2071.1,2731.3 L2096.5,2734.6 L2167,2734.6 L2194.3,2655" fill="none" stroke="#000" stroke-width="6" stroke-linejoin="round" stroke-linecap="round"/>
<line x1="1297.1" y1="2085.3" x2="2194.2" y2="2085.3" stroke="#000" stroke-width="2.7"/>
<line x1="2194.2" y1="2085.3" x2="2194.2" y2="2747" stroke="#000" stroke-width="2.7"/>
<line x1="1297.1" y1="2747" x2="2194.2" y2="2747" stroke="#000" stroke-width="2.7"/>
<line x1="1297.1" y1="2085.3" x2="1297.1" y2="2747" stroke="#000" stroke-width="2.7"/>
<line x1="2182.2" y1="2747" x2="2194.2" y2="2747" stroke="#000" stroke-width="2.5"/>
<line x1="2188.2" y1="2680.8" x2="2194.2" y2="2680.8" stroke="#000" stroke-width="2.5"/>
<line x1="2182.2" y1="2614.7" x2="2194.2" y2="2614.7" stroke="#000" stroke-width="2.5"/>
<line x1="2188.2" y1="2548.5" x2="2194.2" y2="2548.5" stroke="#000" stroke-width="2.5"/>
<line x1="2182.2" y1="2482.3" x2="2194.2" y2="2482.3" stroke="#000" stroke-width="2.5"/>
<line x1="2188.2" y1="2416.2" x2="2194.2" y2="2416.2" stroke="#000" stroke-width="2.5"/>
<line x1="2182.2" y1="2350" x2="2194.2" y2="2350" stroke="#000" stroke-width="2.5"/>
<line x1="2188.2" y1="2283.8" x2="2194.2" y2="2283.8" stroke="#000" stroke-width="2.5"/>
<line x1="2182.2" y1="2217.6" x2="2194.2" y2="2217.6" stroke="#000" stroke-width="2.5"/>
<line x1="2188.2" y1="2151.5" x2="2194.2" y2="2151.5" stroke="#000" stroke-width="2.5"/>
<line x1="2182.2" y1="2085.3" x2="2194.2" y2="2085.3" stroke="#000" stroke-width="2.5"/>
<line x1="1367.9" y1="2747" x2="1367.9" y2="2759" stroke="#000" stroke-width="2.5"/>
<line x1="1486" y1="2747" x2="1486" y2="2759" stroke="#000" stroke-width="2.5"/>
<line x1="1604" y1="2747" x2="1604" y2="2759" stroke="#000" stroke-width="2.5"/>
<line x1="1722" y1="2747" x2="1722" y2="2759" stroke="#000" stroke-width="2.5"/>
<line x1="1840.1" y1="2747" x2="1840.1" y2="2759" stroke="#000" stroke-width="2.5"/>
<line x1="1958.1" y1="2747" x2="1958.1" y2="2759" stroke="#000" stroke-width="2.5"/>
<line x1="2076.2" y1="2747" x2="2076.2" y2="2759" stroke="#000" stroke-width="2.5"/>
<line x1="2194.2" y1="2747" x2="2194.2" y2="2759" stroke="#000" stroke-width="2.5"/>
<line x1="1308.9" y1="2747" x2="1308.9" y2="2755" stroke="#000" stroke-width="2.5"/>
<line x1="1426.9" y1="2747" x2="1426.9" y2="2755" stroke="#000" stroke-width="2.5"/>
<line x1="1545" y1="2747" x2="1545" y2="2755" stroke="#000" stroke-width="2.5"/>
<line x1="1663" y1="2747" x2="1663" y2="2755" stroke="#000" stroke-width="2.5"/>
<line x1="1781.1" y1="2747" x2="1781.1" y2="2755" stroke="#000" stroke-width="2.5"/>
<line x1="1899.1" y1="2747" x2="1899.1" y2="2755" stroke="#000" stroke-width="2.5"/>
<line x1="2017.1" y1="2747" x2="2017.1" y2="2755" stroke="#000" stroke-width="2.5"/>
<line x1="2135.2" y1="2747" x2="2135.2" y2="2755" stroke="#000" stroke-width="2.5"/>
<g class="t" transform="translate(128.5,2344.9) rotate(-90)">
<text x="-1" y="0" font-size="61" font-weight="bold">dV/dD</text>
<text x="192.5" y="0" font-size="82">[</text>
<text x="218.5" y="0" font-size="62" font-weight="bold">cm</text>
<text x="309.4" y="-23.4" font-size="58" font-weight="bold">3</text>
<text x="362.8" y="0" font-size="60">/</text>
<text x="392.5" y="0" font-size="82">(</text>
<text x="420.9" y="0" font-size="62" font-weight="bold">g</text>
<text x="460.4" y="-6" font-size="55" font-weight="bold">*</text>
<text x="482.9" y="0" font-size="63" font-weight="bold">nm</text>
<text x="582" y="0" font-size="82">)</text>
<text x="606.3" y="0" font-size="82">]</text>
</g>
<text class="t" x="1138" y="2964" font-size="70" font-weight="bold">D<tspan font-weight="normal">(</tspan>nm<tspan font-weight="normal">)</tspan></text>
<text transform="translate(143.6,173.2) scale(1.0159,1)" font-size="57.5">250</text>
<text transform="translate(143.6,304.8) scale(1.0159,1)" font-size="57.5">200</text>
<text transform="translate(144.9,437.8) scale(1.0159,1)" font-size="57.5">150</text>
<text transform="translate(144.6,568.9) scale(1.0159,1)" font-size="57.5">100</text>
<text transform="translate(176.4,701.1) scale(1.0159,1)" font-size="57.5">50</text>
<text transform="translate(209,833.7) scale(1.0159,1)" font-size="57.5">0</text>
<text transform="translate(224.5,892.8) scale(1.0091,1)" font-size="59.6" font-weight="bold">0.0</text>
<text transform="translate(412.6,893.8) scale(1.0091,1)" font-size="59.6" font-weight="bold">0.2</text>
<text transform="translate(586.7,893.8) scale(1.0091,1)" font-size="59.6" font-weight="bold">0.4</text>
<text transform="translate(762.5,892.2) scale(1.0091,1)" font-size="59.6" font-weight="bold">0.6</text>
<text transform="translate(942.5,892.2) scale(1.0091,1)" font-size="59.6" font-weight="bold">0.8</text>
<text transform="translate(1120.5,892.2) scale(1.0091,1)" font-size="59.6" font-weight="bold">1.0</text>
<text transform="translate(2214.9,174.7) scale(0.9952,1)" font-size="55.9">30</text>
<text transform="translate(2214.7,285.8) scale(0.9952,1)" font-size="55.9">25</text>
<text transform="translate(2214.6,395.1) scale(0.9952,1)" font-size="55.9">20</text>
<text transform="translate(2216.1,506.4) scale(0.9952,1)" font-size="55.9">15</text>
<text transform="translate(2216,614.8) scale(0.9952,1)" font-size="55.9">10</text>
<text transform="translate(2214.1,724.6) scale(0.9952,1)" font-size="55.9">5</text>
<text transform="translate(2214.1,834.5) scale(0.9952,1)" font-size="55.9">0</text>
<text transform="translate(1243.8,894.8) scale(0.9767,1)" font-size="62.7" font-weight="bold">1.40</text>
<text transform="translate(1471.7,892.9) scale(0.9767,1)" font-size="62.7" font-weight="bold">1.45</text>
<text transform="translate(1691.9,893.3) scale(0.9767,1)" font-size="62.7" font-weight="bold">1.50</text>
<text transform="translate(1917.1,892.4) scale(0.9767,1)" font-size="62.7" font-weight="bold">1.55</text>
<text transform="translate(2140.1,890.4) scale(0.9767,1)" font-size="62.7" font-weight="bold">1.60</text>
<text transform="translate(211.1,1248.7) scale(0.9873,1)" font-size="57.6">6</text>
<text transform="translate(211.2,1358.1) scale(0.9873,1)" font-size="57.6">5</text>
<text transform="translate(210.1,1468.7) scale(0.9873,1)" font-size="57.6">4</text>
<text transform="translate(211.5,1578.4) scale(0.9873,1)" font-size="57.6">3</text>
<text transform="translate(210.9,1689.2) scale(0.9873,1)" font-size="57.6">2</text>
<text transform="translate(208.8,1797.9) scale(0.9873,1)" font-size="57.6">1</text>
<text transform="translate(211.4,1908.9) scale(0.9873,1)" font-size="57.6">0</text>
<text transform="translate(209.9,1975.4) scale(0.9932,1)" font-size="61.7" font-weight="bold">1.40</text>
<text transform="translate(435.8,1973.6) scale(0.9932,1)" font-size="61.7" font-weight="bold">1.45</text>
<text transform="translate(657.7,1973.5) scale(0.9932,1)" font-size="61.7" font-weight="bold">1.50</text>
<text transform="translate(882.9,1971.5) scale(0.9932,1)" font-size="61.7" font-weight="bold">1.55</text>
<text transform="translate(1106.5,1968.2) scale(0.9932,1)" font-size="61.7" font-weight="bold">1.60</text>
<text transform="translate(2209.6,1244.6) scale(1.0506,1)" font-size="59.2">0.006</text>
<text transform="translate(2206.8,1357.3) scale(1.0506,1)" font-size="59.2">0.005</text>
<text transform="translate(2207.2,1469) scale(1.0506,1)" font-size="59.2">0.004</text>
<text transform="translate(2204.9,1580.9) scale(1.0506,1)" font-size="59.2">0.003</text>
<text transform="translate(2205.6,1687.3) scale(1.0506,1)" font-size="59.2">0.002</text>
<text transform="translate(2201.4,1796) scale(1.0506,1)" font-size="59.2">0.001</text>
<text transform="translate(2203.5,1911.8) scale(1.0506,1)" font-size="59.2">0.000</text>
<text transform="translate(1392.6,1959.8) scale(1.0174,1)" font-size="56.3" font-weight="bold">30</text>
<text transform="translate(1528,1959.8) scale(1.0174,1)" font-size="56.3" font-weight="bold">60</text>
<text transform="translate(1664.4,1959.8) scale(1.0174,1)" font-size="56.3" font-weight="bold">90</text>
<text transform="translate(1783.4,1959.8) scale(1.0174,1)" font-size="56.3" font-weight="bold">120</text>
<text transform="translate(1919.7,1959.8) scale(1.0174,1)" font-size="56.3" font-weight="bold">150</text>
<text transform="translate(2055.9,1959.8) scale(1.0174,1)" font-size="56.3" font-weight="bold">180</text>
<text transform="translate(147.2,2101.9) scale(1.0341,1)" font-size="59.8">1.0</text>
<text transform="translate(150.7,2236.5) scale(1.0341,1)" font-size="59.8">0.8</text>
<text transform="translate(153.2,2371.4) scale(1.0341,1)" font-size="59.8">0.6</text>
<text transform="translate(152.3,2499.3) scale(1.0341,1)" font-size="59.8">0.4</text>
<text transform="translate(149.3,2626.8) scale(1.0341,1)" font-size="59.8">0.2</text>
<text transform="translate(152.8,2765.3) scale(1.0341,1)" font-size="59.8">0.0</text>
<text transform="translate(231.6,2819.9) scale(1.0069,1)" font-size="59.9" font-weight="bold">0.6</text>
<text transform="translate(412.7,2818.7) scale(1.0069,1)" font-size="59.9" font-weight="bold">0.8</text>
<text transform="translate(596.2,2818.7) scale(1.0069,1)" font-size="59.9" font-weight="bold">1.0</text>
<text transform="translate(774.6,2819) scale(1.0069,1)" font-size="59.9" font-weight="bold">1.2</text>
<text transform="translate(951.8,2818.7) scale(1.0069,1)" font-size="59.9" font-weight="bold">1.4</text>
<text transform="translate(1130.5,2818.7) scale(1.0069,1)" font-size="59.9" font-weight="bold">1.6</text>
<text transform="translate(2210.9,2101.9) scale(1.0255,1)" font-size="60.1">0.05</text>
<text transform="translate(2210.2,2231) scale(1.0255,1)" font-size="60.1">0.04</text>
<text transform="translate(2211,2362.8) scale(1.0255,1)" font-size="60.1">0.03</text>
<text transform="translate(2211.5,2495.6) scale(1.0255,1)" font-size="60.1">0.02</text>
<text transform="translate(2207.6,2630.4) scale(1.0255,1)" font-size="60.1">0.01</text>
<text transform="translate(2213,2758.6) scale(1.0255,1)" font-size="60.1">0.00</text>
<text transform="translate(1351.6,2813.5) scale(0.9921,1)" font-size="56.6" font-weight="bold">5</text>
<text transform="translate(1454.2,2813.7) scale(0.9921,1)" font-size="56.6" font-weight="bold">10</text>
<text transform="translate(1572.6,2813.5) scale(0.9921,1)" font-size="56.6" font-weight="bold">15</text>
<text transform="translate(1690.1,2813.7) scale(0.9921,1)" font-size="56.6" font-weight="bold">20</text>
<text transform="translate(1808.3,2813.7) scale(0.9921,1)" font-size="56.6" font-weight="bold">25</text>
<text transform="translate(1927.2,2813.7) scale(0.9921,1)" font-size="56.6" font-weight="bold">30</text>
<text transform="translate(2045.6,2813.7) scale(0.9921,1)" font-size="56.6" font-weight="bold">35</text>
<text transform="translate(2163.2,2813.7) scale(0.9921,1)" font-size="56.6" font-weight="bold">40</text>
<text transform="translate(1003.6,772.4) scale(1.0515,1)" font-size="77.8" font-weight="bold">(a)</text>
<text transform="translate(1899.3,758) scale(1.0515,1)" font-size="77.8" font-weight="bold">(b)</text>
<text transform="translate(947.2,1788.1) scale(1.0515,1)" font-size="77.8" font-weight="bold">(c)</text>
<text transform="translate(1873.4,1783.8) scale(1.0515,1)" font-size="77.8" font-weight="bold">(d)</text>
<text transform="translate(1006.7,2627.3) scale(1.0515,1)" font-size="77.8" font-weight="bold">(e)</text>
<text transform="translate(2024.6,2634.6) scale(1.0515,1)" font-size="77.8" font-weight="bold">(f)</text>
<text transform="translate(452.1,576.4) scale(1.0277,1)" font-size="56" font-weight="bold">mAC-snack</text>
<text transform="translate(504.5,650) scale(1.0342,1)" font-size="56" font-weight="bold">ads. exp</text>
<text transform="translate(503.9,720.7) scale(1.0432,1)" font-size="56" font-weight="bold">des. exp.</text>
<text transform="translate(503.9,793) scale(1.0364,1)" font-size="55.5" font-weight="bold">CPSM</text>
<text transform="translate(1645.8,286.6) scale(1.0282,1)" font-size="56.5" font-weight="bold">CPSM</text>
<text transform="translate(1644.4,358.2) scale(1.0229,1)" font-size="57" font-weight="bold">micropore region</text>
<text transform="translate(661.6,1367) scale(1.0244,1)" font-size="56.5" font-weight="bold">CPSM</text>
<text transform="translate(660.1,1439.7) scale(1.0162,1)" font-size="57" font-weight="bold">micropore region</text>
<text transform="translate(1488.2,1335.8) scale(1.0314,1)" font-size="56.5" font-weight="bold">CPSM</text>
<text transform="translate(1486.7,1407.2) scale(1.0215,1)" font-size="57" font-weight="bold">meso-macro- pore region</text>
<text transform="translate(675.5,2261) scale(1.0383,1)" font-size="56.5" font-weight="bold">DFT</text>
<text transform="translate(675.5,2333.8) scale(1.0203,1)" font-size="57" font-weight="bold">micropore region</text>
<text transform="translate(1468.1,2239.3) scale(1.0383,1)" font-size="56.5" font-weight="bold">DFT</text>
<text transform="translate(1468.1,2312) scale(1.0215,1)" font-size="57" font-weight="bold">meso-macro- pore region</text>
</svg>
</body></html>
